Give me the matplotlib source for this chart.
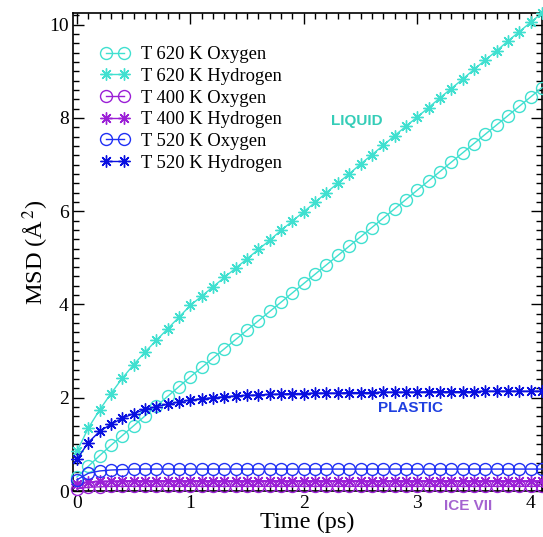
import numpy as np
import matplotlib
matplotlib.use("Agg")
import matplotlib.pyplot as plt
from matplotlib.ticker import MultipleLocator

plt.rcParams['font.family'] = ['Liberation Serif', 'DejaVu Serif']
plt.rcParams['mathtext.fontset'] = 'stix'

# Time axis (ps), one sample every 0.1 ps
time_ps = np.round(np.arange(0.0, 4.15, 0.1), 1)

# Mean square displacement (Å^2)
msd_620_O = [0.30, 0.53, 0.76, 0.98, 1.19, 1.40, 1.61, 1.82, 2.03, 2.24,
             2.45, 2.65, 2.85, 3.05, 3.25, 3.45, 3.65, 3.85, 4.05, 4.25,
             4.45, 4.65, 4.85, 5.05, 5.25, 5.45, 5.65, 5.85, 6.05, 6.25,
             6.45, 6.65, 6.85, 7.05, 7.25, 7.45, 7.65, 7.85, 8.05, 8.25,
             8.45, 8.65]
msd_620_H = [0.85, 1.35, 1.74, 2.09, 2.42, 2.71, 2.98, 3.23, 3.48, 3.73,
             3.98, 4.18, 4.38, 4.58, 4.78, 4.98, 5.18, 5.38, 5.59, 5.79,
             5.99, 6.19, 6.40, 6.60, 6.80, 7.01, 7.21, 7.41, 7.62, 7.82,
             8.02, 8.22, 8.43, 8.63, 8.83, 9.04, 9.24, 9.44, 9.65, 9.85,
             10.05, 10.25]
msd_400_O = [0.05, 0.08, 0.09, 0.10, 0.10, 0.10, 0.10, 0.10, 0.10, 0.10,
             0.10, 0.10, 0.10, 0.10, 0.10, 0.10, 0.10, 0.10, 0.10, 0.10,
             0.10, 0.10, 0.10, 0.10, 0.10, 0.10, 0.10, 0.10, 0.10, 0.10,
             0.10, 0.10, 0.10, 0.10, 0.10, 0.10, 0.10, 0.10, 0.10, 0.10,
             0.10, 0.10]
msd_400_H = [0.15, 0.19, 0.21, 0.21, 0.22, 0.22, 0.22, 0.22, 0.22, 0.22,
             0.22, 0.22, 0.22, 0.22, 0.22, 0.22, 0.22, 0.22, 0.22, 0.22,
             0.22, 0.22, 0.22, 0.22, 0.22, 0.22, 0.22, 0.22, 0.22, 0.22,
             0.22, 0.22, 0.22, 0.22, 0.22, 0.22, 0.22, 0.22, 0.22, 0.22,
             0.22, 0.22]
msd_520_O = [0.24, 0.38, 0.43, 0.45, 0.46, 0.47, 0.47, 0.47, 0.47, 0.47,
             0.47, 0.47, 0.47, 0.47, 0.47, 0.47, 0.47, 0.47, 0.47, 0.47,
             0.47, 0.47, 0.47, 0.47, 0.47, 0.47, 0.47, 0.47, 0.47, 0.47,
             0.47, 0.47, 0.47, 0.47, 0.47, 0.47, 0.47, 0.47, 0.47, 0.47,
             0.47, 0.47]
msd_520_H = [0.68, 1.04, 1.28, 1.43, 1.56, 1.66, 1.75, 1.81, 1.86, 1.91,
             1.95, 1.98, 2.00, 2.02, 2.04, 2.05, 2.06, 2.07, 2.08, 2.09,
             2.09, 2.10, 2.10, 2.10, 2.11, 2.11, 2.11, 2.12, 2.12, 2.12,
             2.12, 2.13, 2.13, 2.13, 2.13, 2.13, 2.14, 2.14, 2.14, 2.14,
             2.14, 2.14]

series_labels = ["T 620 K Oxygen", "T 620 K Hydrogen",
                 "T 400 K Oxygen", "T 400 K Hydrogen",
                 "T 520 K Oxygen", "T 520 K Hydrogen"]

TURQ = '#40E0D0'
VIOLET = '#9B1FD6'
BLUE_O = '#2030F5'
BLUE_H = '#0A10E0'
ASTERISK = (8, 2, 0)

fig = plt.figure(figsize=(5.43, 5.37), dpi=100)
ax = fig.add_axes([73 / 543, 1 - 491 / 537, 469 / 543, 478 / 537])

series = [
    (msd_620_O, TURQ, 'o'), (msd_620_H, TURQ, ASTERISK),
    (msd_400_O, VIOLET, 'o'), (msd_400_H, VIOLET, ASTERISK),
    (msd_520_O, BLUE_O, 'o'), (msd_520_H, BLUE_H, ASTERISK),
]
for (vals, col, mk), lab in zip(series, series_labels):
    ax.plot(time_ps, vals, color=col, lw=1.0, marker=mk, ms=8.6,
            mfc='none', mec=col, mew=1.0, label=lab, clip_on=False, zorder=3)

ax.set_xlim(-0.035, 4.1)
ax.set_ylim(0, 10.25)
ax.xaxis.set_major_locator(MultipleLocator(1))
ax.xaxis.set_minor_locator(MultipleLocator(0.1))
ax.yaxis.set_major_locator(MultipleLocator(2))
ax.yaxis.set_minor_locator(MultipleLocator(0.2))
ax.tick_params(which='both', direction='in', top=True, right=True,
               width=1.0, labelsize=14, pad=3)
ax.tick_params(which='major', length=8)
ax.tick_params(which='minor', length=4)
for s in ax.spines.values():
    s.set_linewidth(1.2)

ax.set_xlabel("Time (ps)", fontsize=17.5, labelpad=0)
ax.set_ylabel(r"MSD (Å$^{\,2}$)", fontsize=17.5, labelpad=-1)

leg = ax.legend(loc='upper left', bbox_to_anchor=(0.043, 0.946), frameon=False,
                fontsize=13.4, numpoints=2, handlelength=1.55,
                handletextpad=0.6, labelspacing=0.25, borderaxespad=0)

ax.text(2.47, 7.94, "LIQUID", color='#35CDB8', fontsize=11, fontweight='bold',
        family='Liberation Sans', ha='center', va='center')
ax.text(2.94, 1.77, "PLASTIC", color='#1E3FE0', fontsize=11, fontweight='bold',
        family='Liberation Sans', ha='center', va='center')
ax.text(3.45, -0.33, "ICE VII", color='#A463D0', fontsize=11, fontweight='bold',
        family='Liberation Sans', ha='center', va='center', clip_on=False)

fig.savefig("out.png", dpi=100)
